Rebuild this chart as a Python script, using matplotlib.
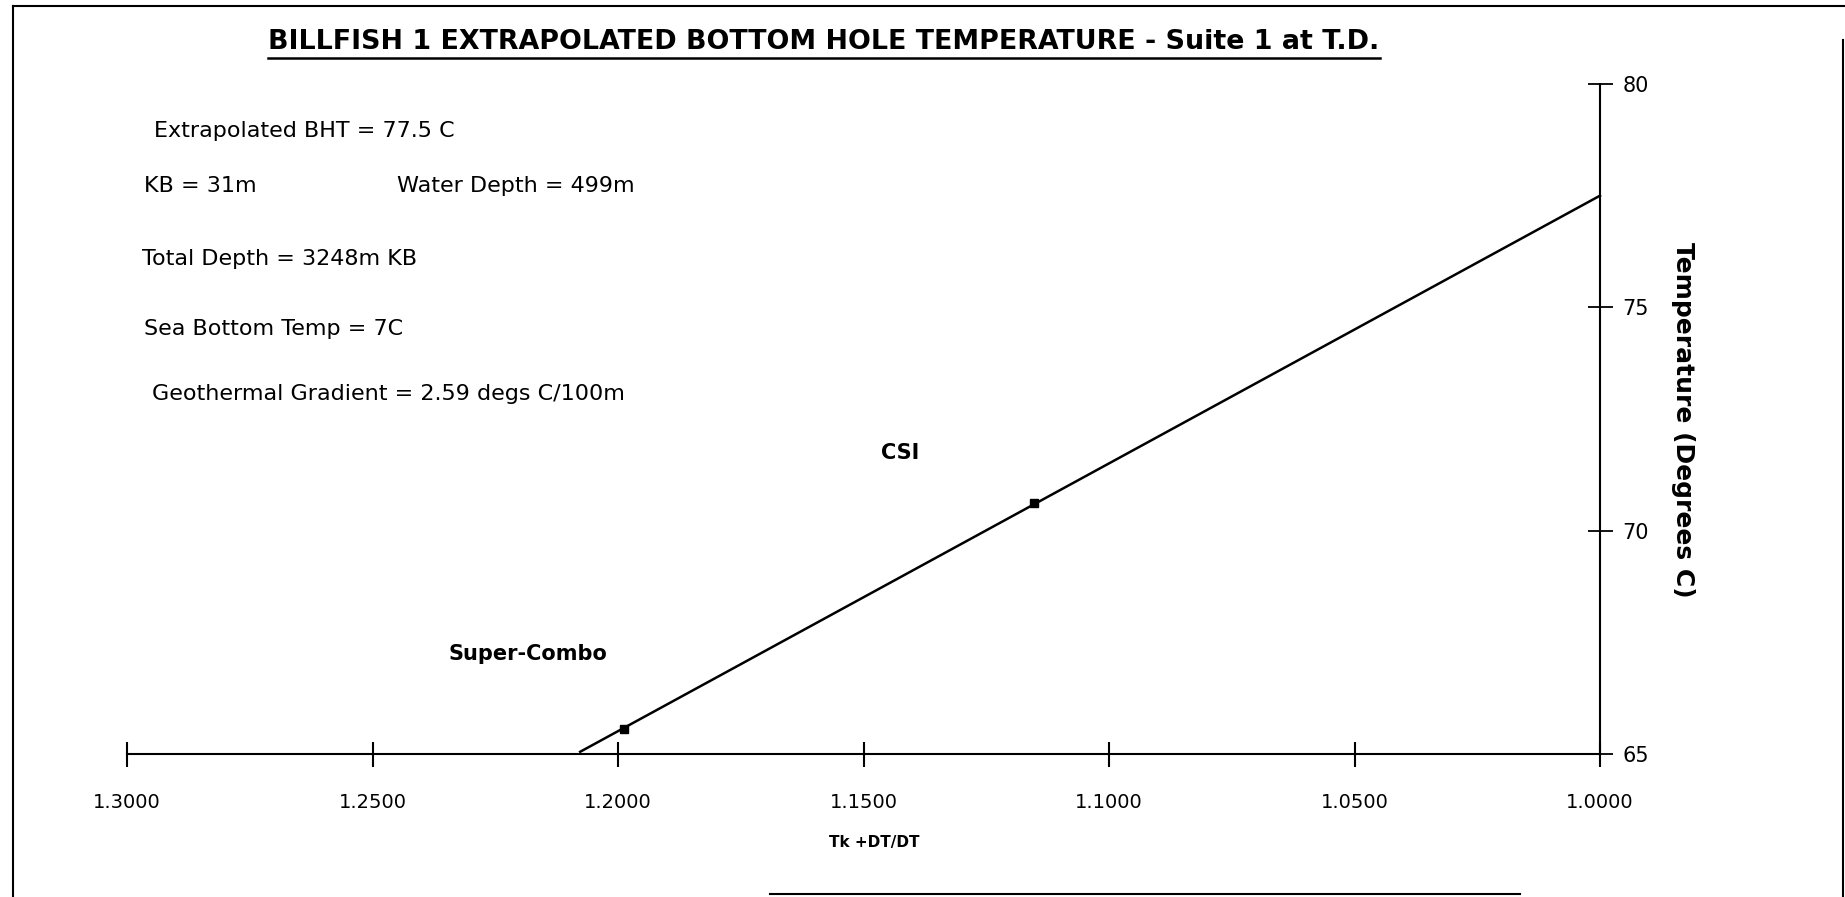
import matplotlib
matplotlib.use("Agg")
import matplotlib.pyplot as plt
from matplotlib.lines import Line2D

plt.rcParams['font.family'] = 'DejaVu Sans'

# extrapolation line (Horner plot) and logged temperatures
line_x = [1.2077, 1.0]
line_t = [65.05, 77.5]
run_x = [1.1988, 1.1153]
run_t = [65.56, 70.63]
run_names = ["Super-Combo", "CSI"]
name_x = [1.2183, 1.1426]
name_t = [67.24, 71.73]

x_ticks = [1.30, 1.25, 1.20, 1.15, 1.10, 1.05, 1.00]
y_ticks = [65, 70, 75, 80]

notes = [
    ("Extrapolated BHT = 77.5 C", 154, 131),
    ("KB = 31m", 144, 186),
    ("Water Depth = 499m", 397, 186),
    ("Total Depth = 3248m KB", 142, 259),
    ("Sea Bottom Temp = 7C", 144, 329),
    ("Geothermal Gradient = 2.59 degs C/100m", 152, 394),
]

W, H = 1845, 897
fig = plt.figure(figsize=(W / 100, H / 100), dpi=100)


def fx(px):
    return px / W


def fy(py):
    return 1 - py / H


ax = fig.add_axes([fx(127), fy(754), fx(1600) - fx(127), fy(84) - fy(754)])
ax.set_xlim(1.3, 1.0)
ax.set_ylim(65, 80)

ax.plot(line_x, line_t, color="black", lw=1.8, clip_on=False)
ax.plot(run_x, run_t, "s", color="black", ms=5.5, clip_on=False)
for name, x, t in zip(run_names, name_x, name_t):
    ax.text(x, t, name, ha="center", va="center", fontsize=15, fontweight="bold")

ax.spines["top"].set_visible(False)
ax.spines["left"].set_visible(False)
ax.spines["bottom"].set_linewidth(1.5)
ax.spines["right"].set_linewidth(1.5)
ax.yaxis.tick_right()
ax.set_xticks(x_ticks)
ax.set_xticklabels([f"{v:.4f}" for v in x_ticks])
ax.set_yticks(y_ticks)
ax.tick_params(axis="x", direction="inout", length=18, width=1.5, pad=19, labelsize=14)
ax.tick_params(axis="y", direction="inout", length=18, width=1.3, pad=7, labelsize=15)
ax.set_xlabel("Tk +DT/DT", fontsize=11, fontweight="bold", labelpad=17)
ax.xaxis.label.set_x((874 - 127) / 1473)

fig.text(fx(1683), fy(420), "Temperature (Degrees C)", rotation=-90,
         ha="center", va="center", fontsize=18, fontweight="bold")

for txt, x, y in notes:
    fig.text(fx(x), fy(y), txt, ha="left", va="center", fontsize=16)

title = fig.text(fx(824), fy(42), "BILLFISH 1 EXTRAPOLATED BOTTOM HOLE TEMPERATURE - Suite 1 at T.D.",
                 ha="center", va="center", fontsize=19.4, fontweight="bold")

# underline the title
fig.canvas.draw()
bb = title.get_window_extent(fig.canvas.get_renderer())
x0, y0 = fig.transFigure.inverted().transform((bb.x0, bb.y0 - 3))
x1, _ = fig.transFigure.inverted().transform((bb.x1, bb.y0 - 3))
fig.add_artist(Line2D([x0, x1], [y0, y0], color="black", lw=1.8))

# scanned page frame
frame = [
    ([13, 1845], [6, 6]),
    ([13, 13], [6, 897]),
    ([1843, 1843], [40, 897]),
    ([770, 1520], [894, 894]),
]
for xs, ys in frame:
    fig.add_artist(Line2D([fx(v) for v in xs], [fy(v) for v in ys], color="black", lw=1.5))

fig.savefig("out.png", dpi=100)
